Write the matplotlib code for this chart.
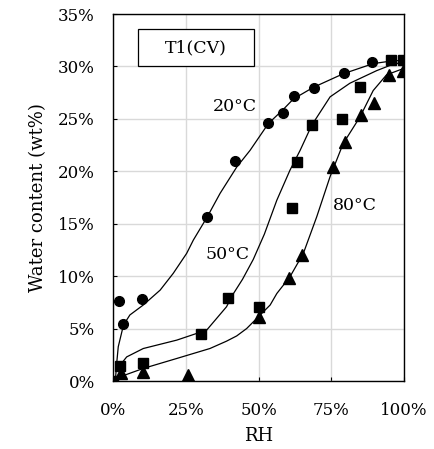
import matplotlib
matplotlib.use("Agg")
import matplotlib.pyplot as plt
from matplotlib.patches import Rectangle
from matplotlib.ticker import PercentFormatter

plt.rcParams['font.family'] = ['DejaVu Serif']
plt.rcParams['font.size'] = 12

# measured points (RH fraction, water content %)
rh_20 = [0.022, 0.036, 0.099, 0.324, 0.420, 0.534, 0.583, 0.621, 0.692, 0.794, 0.891]
wc_20 = [7.65, 5.43, 7.80, 15.66, 20.97, 24.56, 25.60, 27.17, 27.96, 29.40, 30.40]

rh_50 = [0.0, 0.023, 0.102, 0.302, 0.396, 0.503, 0.614, 0.632, 0.684, 0.787, 0.849, 0.955, 0.995]
wc_50 = [0.0, 1.46, 1.75, 4.45, 7.94, 7.05, 16.5, 20.9, 24.4, 25.0, 28.0, 30.6, 30.6]

rh_80 = [0.026, 0.104, 0.259, 0.503, 0.606, 0.649, 0.757, 0.798, 0.851, 0.896, 0.948, 0.998]
wc_80 = [0.73, 0.89, 0.57, 6.13, 9.85, 12.0, 20.4, 22.8, 25.4, 26.5, 29.2, 29.6]

# fitted sorption curves
fit_rh_20 = [0.008, 0.012, 0.018, 0.036, 0.058, 0.104, 0.162, 0.207, 0.253, 0.276, 0.324,
             0.368, 0.425, 0.471, 0.534, 0.585, 0.620, 0.688, 0.791, 0.894, 0.952, 0.998]
fit_wc_20 = [0.0, 1.5, 3.27, 5.34, 6.3, 7.25, 8.67, 10.27, 12.17, 13.44, 15.66,
             17.9, 20.4, 22.0, 24.56, 25.9, 26.9, 28.0, 29.3, 30.27, 30.5, 30.6]

fit_rh_50 = [0.018, 0.024, 0.047, 0.104, 0.219, 0.322, 0.390, 0.413, 0.445, 0.482, 0.520,
             0.563, 0.608, 0.643, 0.683, 0.746, 0.814, 0.906, 0.952, 0.998]
fit_wc_50 = [1.2, 1.5, 2.3, 3.1, 3.9, 4.86, 7.08, 8.3, 9.7, 11.6, 14.0,
             17.25, 20.1, 22.0, 24.4, 27.1, 28.4, 29.6, 30.1, 30.45]

fit_rh_80 = [0.012, 0.024, 0.104, 0.219, 0.333, 0.390, 0.425, 0.459, 0.494, 0.540, 0.563,
             0.608, 0.654, 0.700, 0.746, 0.791, 0.849, 0.894, 0.940, 0.998]
fit_wc_80 = [0.2, 0.4, 1.2, 2.15, 3.1, 3.8, 4.3, 5.0, 5.97, 7.25, 8.35,
             9.94, 12.17, 15.66, 19.5, 22.65, 25.2, 27.7, 29.2, 29.8]

fig = plt.figure(figsize=(4.35, 4.49), dpi=100)
ax = fig.add_axes([0.2598, 0.1514, 0.669, 0.8174])

for x, y in [(fit_rh_20, fit_wc_20), (fit_rh_50, fit_wc_50), (fit_rh_80, fit_wc_80)]:
    ax.plot(x, [v / 100 for v in y], color='black', lw=0.9, zorder=3)

ax.plot(rh_20, [v / 100 for v in wc_20], 'o', color='black', ms=7, zorder=4)
ax.plot(rh_50, [v / 100 for v in wc_50], 's', color='black', ms=6.5, zorder=4)
ax.plot(rh_80, [v / 100 for v in wc_80], '^', color='black', ms=8, zorder=4)

ax.text(0.42, 0.262, '20°C', ha='center', va='center', fontsize=12.5)
ax.text(0.395, 0.121, '50°C', ha='center', va='center', fontsize=12.5)
ax.text(0.83, 0.167, '80°C', ha='center', va='center', fontsize=12.5)

# sample name box
ax.add_patch(Rectangle((0.086, 0.858), 0.399, 0.101, transform=ax.transAxes,
                       fc='white', ec='black', lw=0.9, zorder=5))
ax.text(0.285, 0.909, 'T1(CV)', transform=ax.transAxes, ha='center', va='center',
        fontsize=12.5, zorder=6)

ax.set_xlim(0, 1)
ax.set_ylim(0, 0.35)
ax.set_xticks([0, 0.25, 0.5, 0.75, 1.0])
ax.set_yticks([i * 0.05 for i in range(8)])
ax.xaxis.set_major_formatter(PercentFormatter(1.0, decimals=0))
ax.yaxis.set_major_formatter(PercentFormatter(1.0, decimals=0))
ax.tick_params(direction='in', length=3, width=0.8)
ax.tick_params(axis='x', pad=15)
ax.tick_params(axis='y', pad=13)
ax.grid(True, color='#d9d9d9', lw=1)
ax.set_axisbelow(True)
for s in ax.spines.values():
    s.set_linewidth(1)

ax.set_xlabel('RH', fontsize=13, labelpad=6)
ax.set_ylabel('Water content (wt%)', fontsize=13, labelpad=8)

fig.savefig('out.png', dpi=100)
